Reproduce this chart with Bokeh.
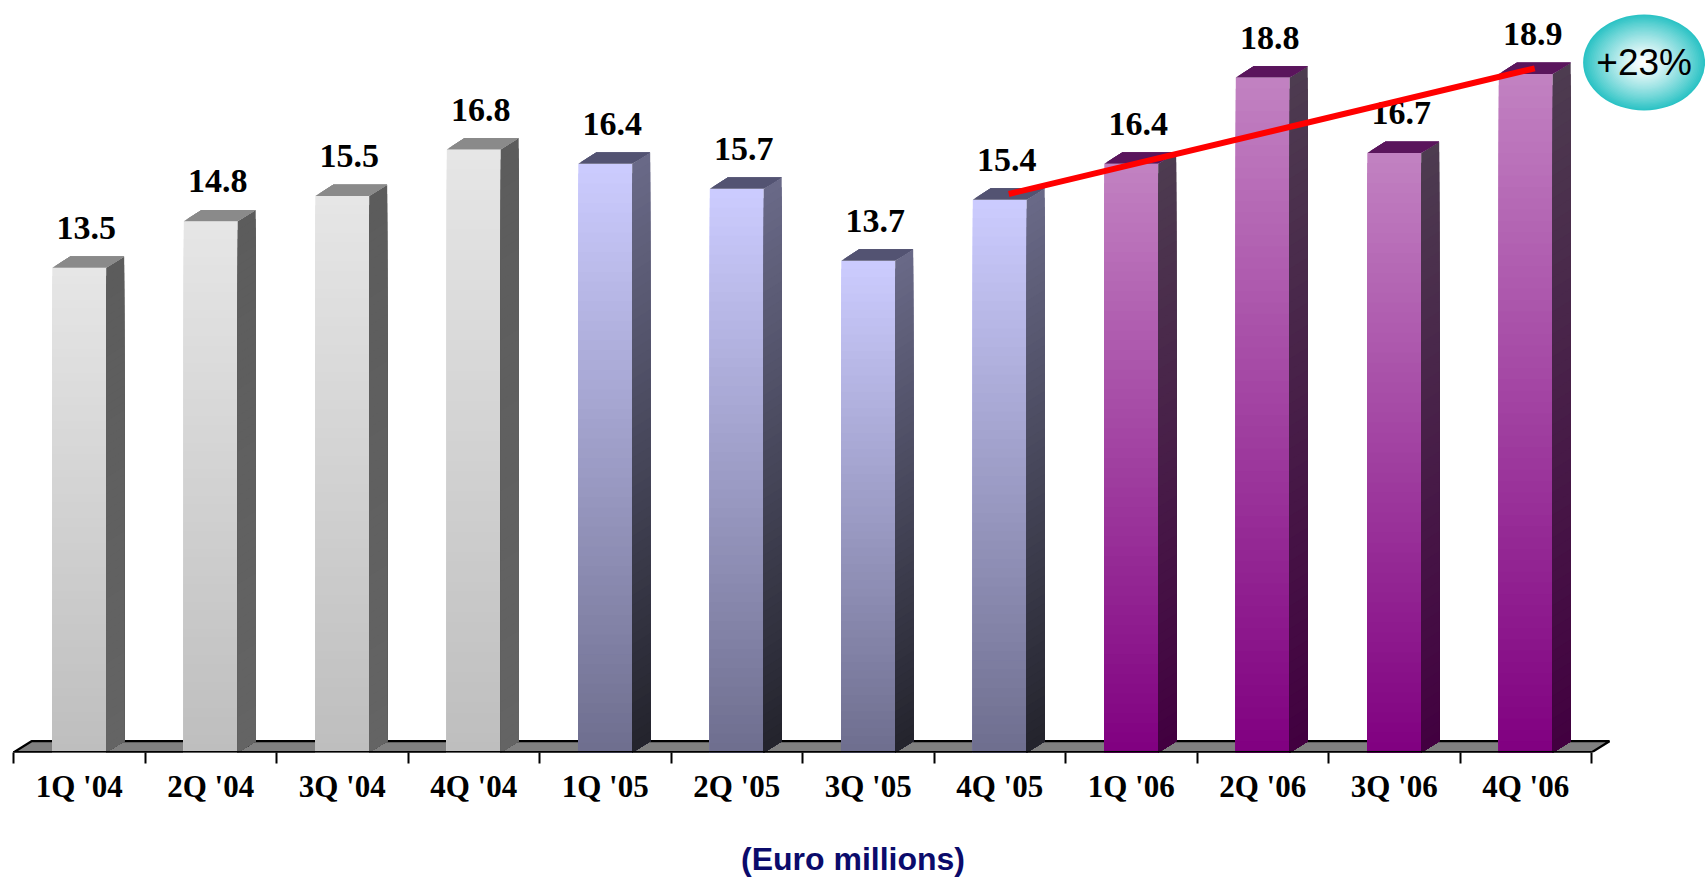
import numpy as np
from bokeh.plotting import figure
from bokeh.models import FixedTicker
from bokeh.core.properties import value
from bokeh.embed import file_html
from bokeh.resources import INLINE

# Quarterly figures (Euro millions)
quarters = ["1Q '04", "2Q '04", "3Q '04", "4Q '04",
            "1Q '05", "2Q '05", "3Q '05", "4Q '05",
            "1Q '06", "2Q '06", "3Q '06", "4Q '06"]
revenue = [13.5, 14.8, 15.5, 16.8, 16.4, 15.7, 13.7, 15.4, 16.4, 18.8, 16.7, 18.9]
year_group = [0, 0, 0, 0, 1, 1, 1, 1, 2, 2, 2, 2]
trend_start = "4Q '05"
trend_end = "4Q '06"

# Per-year palette: (front top, front bottom, side top, side bottom, lid front, lid back)
palette = [
    ("#E6E6E6", "#BEBEBE", "#5C5C5C", "#646464", "#888888", "#A2A2A2"),
    ("#CCCCFF", "#6E6E8E", "#6A6A88", "#23232C", "#4E4E6C", "#A4A4C4"),
    ("#C282C2", "#800080", "#4D3C50", "#420040", "#561058", "#8E5A92"),
]

W, H = 1705, 882
PX_X = 131.5          # pixels per category
PX_Y = 35.9           # pixels per Euro million
BOTTOM = 130
X0 = -13 / PX_X
X1 = (W - 13) / PX_X
Y1 = (H - BOTTOM) / PX_Y

BAR_W = 0.41
DX = 18 / PX_X
DY = 11.3 / PX_Y


def hex_rgb(h):
    h = h.lstrip("#")
    return np.array([int(h[i:i + 2], 16) for i in (0, 2, 4)], dtype=float)


def mix(a, b, t):
    c = hex_rgb(a) * (1 - t) + hex_rgb(b) * t
    return "#%02x%02x%02x" % tuple(int(round(v)) for v in c)


p = figure(width=W, height=H, x_range=(X0, X1), y_range=(0, Y1),
           output_backend="svg", toolbar_location=None, y_axis_location=None,
           min_border_left=0, min_border_right=0, min_border_top=0,
           min_border_bottom=BOTTOM)
p.outline_line_color = None
p.grid.visible = False
p.background_fill_color = "white"
p.border_fill_color = "white"

n = len(quarters)
centers = np.arange(n) + 0.5

# floor slab under the bars
p.patch([0, DX, n + DX, n], [0, DY, DY, 0], fill_color="#808080",
        line_color="black", line_width=2.2)

# bar faces: shaded by layering progressively shorter pieces from the top colour down
fl, fr, fb, ft, fc = [], [], [], [], []
sx, sy, sc = [], [], []
tx, ty, tc = [], [], []
STRIPS = 60
LID = 8
for c, v, g in zip(centers, revenue, year_group):
    ftop, fbot, stop, sbot, lfront, lback = palette[g]
    l, r = c - BAR_W / 2, c + BAR_W / 2
    edges = np.linspace(0, v, STRIPS + 1)
    for k in range(STRIPS - 1, -1, -1):
        y1 = edges[k + 1]
        f = (k + 0.5) / STRIPS
        fl.append(l); fr.append(r); fb.append(0); ft.append(y1)
        fc.append(mix(fbot, ftop, f))
        sx.append([r, r + DX, r + DX, r])
        sy.append([0, DY, y1 + DY, y1])
        sc.append(mix(sbot, stop, f))
    for j in range(LID - 1, -1, -1):
        t0 = j / LID
        tx.append([l + t0 * DX, r + t0 * DX, r + DX, l + DX])
        ty.append([v + t0 * DY, v + t0 * DY, v + DY, v + DY])
        tc.append(mix(lfront, lback, (j + 0.5) / LID))

p.quad(left=fl, right=fr, bottom=fb, top=ft, fill_color=fc, line_color=None)
p.patches(sx, sy, fill_color=sc, line_color=None)
p.patches(tx, ty, fill_color=tc, line_color=None)

# front edge of the floor
p.line([0, n], [0, 0], line_color="black", line_width=3)

# value labels
p.text(x=list(centers + 0.053), y=[v + 1.11 for v in revenue],
       text=["%.1f" % v for v in revenue],
       text_font=value("Liberation Serif"), text_font_style="bold",
       text_font_size="34px", text_color="black",
       text_align="center", text_baseline="middle")

# growth trend line between the two fourth quarters
i0, i1 = quarters.index(trend_start), quarters.index(trend_end)
p.line([centers[i0] + DX / 2, centers[i1] + DX / 2],
       [revenue[i0] + DY / 2, revenue[i1] + DY / 2],
       line_color="#FF0000", line_width=6)

# growth bubble
growth = (revenue[i1] / revenue[i0] - 1) * 100
bx, by = centers[i1] + 0.9, revenue[i1] + 0.32
BW, BH = 122 / PX_X, 96 / PX_Y
RINGS = 36
for k in range(RINGS):
    s = 1 - k / RINGS
    p.ellipse(x=[bx], y=[by], width=[BW * s], height=[BH * s],
              fill_color=mix("#FFFFFF", "#2CC3C5", min(1.0, s ** 1.3)),
              line_color=None)
p.text(x=[bx], y=[by], text=["+%d%%" % round(growth)],
       text_font=value("Liberation Sans"), text_font_size="37px",
       text_color="black", text_align="center", text_baseline="middle")

# category axis: labels centred on bars, ticks between categories
ax = p.xaxis[0]
ax.ticker = FixedTicker(ticks=list(centers), minor_ticks=list(range(n + 1)))
ax.major_label_overrides = {float(c): q for c, q in zip(centers, quarters)}
ax.axis_line_color = None
ax.major_tick_line_color = None
ax.major_tick_in = 0
ax.major_tick_out = 0
ax.minor_tick_in = 0
ax.minor_tick_out = 11
ax.minor_tick_line_color = "black"
ax.minor_tick_line_width = 2
ax.major_label_standoff = 5
ax.major_label_text_font = "Liberation Serif"
ax.major_label_text_font_style = "bold"
ax.major_label_text_font_size = "31px"
ax.major_label_text_color = "black"
ax.axis_label = "(Euro millions)"
ax.axis_label_standoff = 34
ax.axis_label_text_font = "Liberation Sans"
ax.axis_label_text_font_style = "bold"
ax.axis_label_text_font_size = "32px"
ax.axis_label_text_color = "#0B0B6B"

open("out.html", "w").write(file_html(p, INLINE))
